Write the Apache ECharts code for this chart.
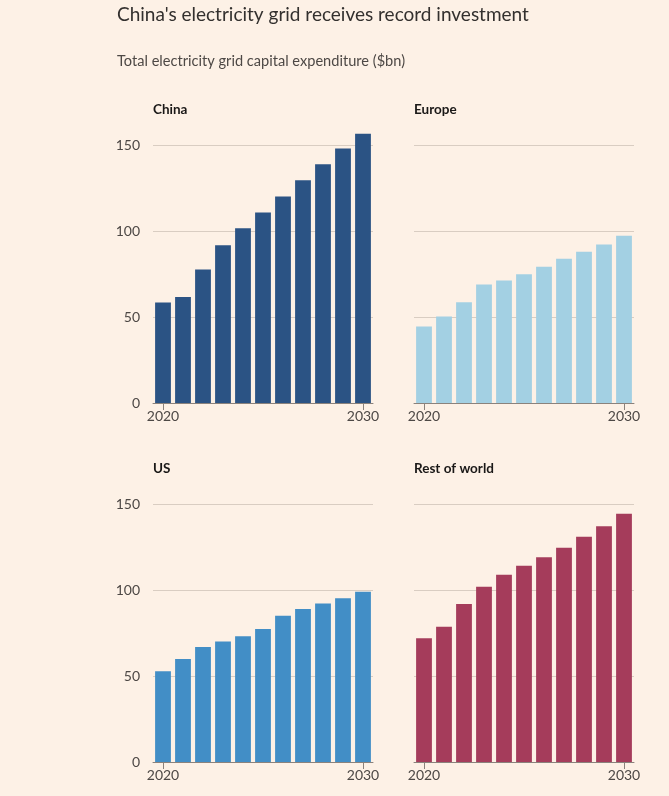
<!DOCTYPE html>
<html>
<head>
<meta charset="utf-8">
<script src="https://cdn.jsdelivr.net/npm/echarts@6/dist/echarts.min.js"></script>
<style>
html,body{margin:0;padding:0;background:#fdf1e6;}
#chart{width:669px;height:796px;}
</style>
</head>
<body>
<div id="chart"></div>
<script>
const years = ['2020','2021','2022','2023','2024','2025','2026','2027','2028','2029','2030'];
const china = [58.5, 61.7, 77.6, 91.7, 101.6, 110.7, 120.0, 129.5, 138.8, 147.9, 156.6];
const europe = [44.5, 50.3, 58.6, 68.9, 71.2, 74.9, 79.2, 83.8, 87.9, 92.1, 97.2];
const us = [52.7, 59.9, 66.9, 70.0, 73.1, 77.3, 85.1, 89.0, 92.1, 95.2, 99.0];
const restOfWorld = [71.9, 78.7, 91.9, 101.9, 108.9, 114.1, 119.0, 124.6, 131.0, 137.0, 144.4];
const yTicks = [0, 50, 100, 150];
const panelNames = ['China', 'Europe', 'US', 'Rest of world'];

const FONT = 'Lato';
const panels = [
  {name: panelNames[0], data: china, color: '#2b5384', left: 153, top: 145, showY: true},
  {name: panelNames[1], data: europe, color: '#a3d0e3', left: 414, top: 145, showY: false},
  {name: panelNames[2], data: us, color: '#428ec6', left: 153, top: 504, showY: true},
  {name: panelNames[3], data: restOfWorld, color: '#a53c5b', left: 414, top: 504, showY: false}
];

const chart = echarts.init(document.getElementById('chart'));
const option = {
  backgroundColor: '#fdf1e6',
  animation: false,
  textStyle: {fontFamily: FONT},
  title: [
    {text: "China's electricity grid receives record investment", left: 117, top: 5, padding: 0,
     textStyle: {fontFamily: FONT, fontSize: 19, fontWeight: 'normal', color: '#33302e'}},
    {text: 'Total electricity grid capital expenditure ($bn)', left: 117, top: 54, padding: 0,
     textStyle: {fontFamily: FONT, fontSize: 14.6, fontWeight: 'normal', color: '#4d4845'}}
  ].concat(panels.map(p => ({
    text: p.name, left: p.left, top: p.top - 42, padding: 0,
    textStyle: {fontFamily: FONT, fontSize: 13.5, fontWeight: 'bold', color: '#1a1817'}
  }))),
  grid: panels.map(p => ({left: p.left, top: p.top, width: 220, height: 258, containLabel: false})),
  xAxis: panels.map((p, i) => ({
    type: 'category', gridIndex: i, data: years,
    axisLine: {show: true, lineStyle: {color: '#8a827c', width: 1}},
    axisTick: {show: true, interval: 9, alignWithLabel: true, length: 7, lineStyle: {color: '#8a827c'}},
    axisLabel: {interval: 9, color: '#4d4845', fontSize: 14, fontFamily: FONT, margin: 6}
  })),
  yAxis: panels.map((p, i) => ({
    type: 'value', gridIndex: i, min: 0, max: 150, interval: 50,
    axisLine: {show: false}, axisTick: {show: false},
    axisLabel: {show: p.showY, color: '#4d4845', fontSize: 14, fontFamily: FONT, margin: 13,
      formatter: v => yTicks.includes(v) ? String(v) : ''},
    splitLine: {show: true, lineStyle: {color: '#d9cdc2', width: 1}}
  })),
  series: panels.map((p, i) => ({
    type: 'bar', xAxisIndex: i, yAxisIndex: i, data: p.data,
    barCategoryGap: '21%', clip: false,
    itemStyle: {color: p.color}
  }))
};
chart.setOption(option);
</script>
</body>
</html>
